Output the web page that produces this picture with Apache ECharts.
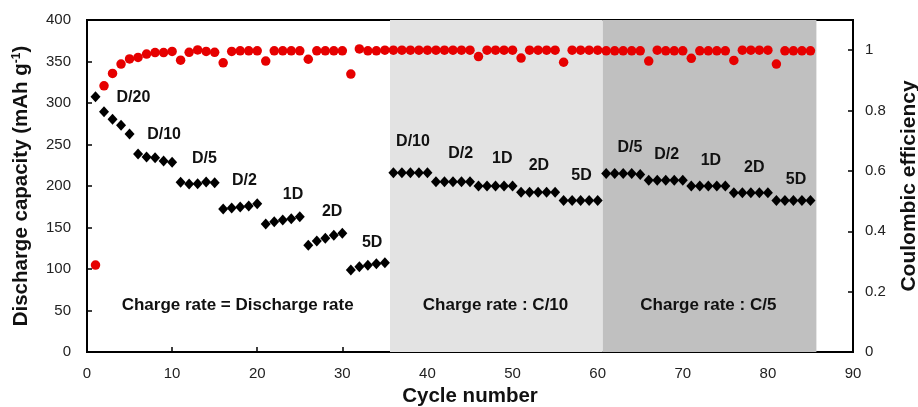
<!DOCTYPE html>
<html><head><meta charset="utf-8">
<script src="https://cdn.jsdelivr.net/npm/echarts@6/dist/echarts.min.js"></script>
<style>html,body{margin:0;padding:0;background:#fff}#c{width:918px;height:407px}</style>
</head><body><div id="c"></div>
<script>
const cycles = Array.from({length:85},(_,i)=>i+1);
const capacity = [307.6,289.5,280.3,273.1,262.7, 238.6,234.9,234.1,230.1,228.5,
  204.4,202.4,202.8,204.8,204.0, 172.3,173.5,174.7,175.9,178.7,
  154.2,157.0,159.0,160.6,163.0, 128.5,133.7,137.0,140.6,143.0,
  98.8,102.8,104.4,106.4,107.6, 216,216,216,216,216,
  205,205,205,205,205, 200,200,200,200,200,
  192.5,192.5,192.5,192.5,192.5, 182.5,182.5,182.5,182.5,182.5,
  215,215,215,215,214, 207,207,207,207,207,
  200,200,200,200,200, 192,192,192,192,192,
  182.5,182.5,182.5,182.5,182.5];
const efficiency = [0.288,0.882,0.923,0.954,0.971,0.976,0.987,0.992,0.992,0.996,
  0.967,0.993,1.001,0.996,0.993,0.958,0.996,0.998,0.998,0.998,
  0.964,0.998,0.998,0.998,0.998,0.970,0.998,0.998,0.998,0.998,
  0.921,1.004,0.998,0.998,1.0, 1.0,1.0,1.0,1.0,1.0,
  1.0,1.0,1.0,1.0,1.0, 0.979,1.0,1.0,1.0,1.0,
  0.974,1.0,1.0,1.0,1.0, 0.960,1.0,1.0,1.0,1.0,
  0.998,0.998,0.998,0.998,0.998, 0.964,1.0,0.998,0.998,0.998,
  0.973,0.998,0.998,0.998,0.998, 0.966,1.0,1.0,1.0,1.0,
  0.954,0.998,0.998,0.998,0.998];
const rateLabels = ['D/20','D/10','D/5','D/2','1D','2D','5D','D/10','D/2','1D','2D','5D','D/5','D/2','1D','2D','5D'];
const rateLabelX = [5.45,9.05,13.8,18.5,24.2,28.8,33.5,38.3,43.9,48.8,53.1,58.1,63.8,68.1,73.3,78.4,83.3];
const rateLabelY = [307,262,233,206,190,169,132,253,238.6,232.5,224,212,246.6,238,231,222,208];
const regionLabels = ['Charge rate = Discharge rate','Charge rate : C/10','Charge rate : C/5'];
const regionLabelX = [17.7,48.0,73.0];
const regionLabelY = [56.6,56.6,56.6];
const regions = [[35.6,60.6],[60.6,85.7]];
const regionColors = ['#e3e3e3','#c0c0c0'];
const xTicks = {min:0,max:90,interval:10};
const yLeftTicks = {min:0,max:400,interval:50};
const yRightTicks = {min:0,max:1.1,interval:0.2};

const FONT = 'Liberation Sans, Arial, sans-serif';
const chart = echarts.init(document.getElementById('c'), null, {renderer:'canvas'});
const annot = rateLabels.map((t,i)=>({value:[rateLabelX[i],rateLabelY[i]],name:t}));
const regAnnot = regionLabels.map((t,i)=>({value:[regionLabelX[i],regionLabelY[i]],name:t}));
const mkLabel = fs => ({show:true,position:'inside',formatter:p=>p.name,fontFamily:FONT,fontWeight:'bold',
  fontSize:fs,color:'#111',opacity:1,textBorderWidth:0});
chart.setOption({
  animation:false,
  grid:{left:87,right:65,top:20,bottom:55,outerBoundsMode:'none',containLabel:false,
    show:true,borderColor:'#000',borderWidth:2,backgroundColor:'transparent'},
  xAxis:{type:'value',min:xTicks.min,max:xTicks.max,interval:xTicks.interval,
    name:'Cycle number',nameLocation:'middle',nameGap:34,
    nameTextStyle:{fontFamily:FONT,fontWeight:'bold',fontSize:20.5,color:'#111'},
    axisLine:{lineStyle:{color:'#000',width:2}},
    axisTick:{inside:true,length:5,lineStyle:{color:'#000',width:1.5}},
    axisLabel:{fontFamily:FONT,fontSize:15,color:'#222',margin:14},
    splitLine:{show:false}},
  yAxis:[{type:'value',min:yLeftTicks.min,max:yLeftTicks.max,interval:yLeftTicks.interval,
    name:'Discharge capacity (mAh g{sup|-1})',nameLocation:'middle',nameRotate:90,nameGap:55,
    nameTextStyle:{fontFamily:FONT,fontWeight:'bold',fontSize:20.5,color:'#111',
      rich:{sup:{fontFamily:FONT,fontWeight:'bold',fontSize:12,color:'#111',verticalAlign:'top',padding:[0,0,8,0]}}},
    axisLine:{show:true,lineStyle:{color:'#000',width:2}},
    axisTick:{show:true,inside:true,length:5,lineStyle:{color:'#000',width:1.5}},
    axisLabel:{fontFamily:FONT,fontSize:15,color:'#222',margin:16},
    splitLine:{show:false}},
   {type:'value',position:'right',min:yRightTicks.min,max:yRightTicks.max,interval:yRightTicks.interval,
    name:'Coulombic efficiency',nameLocation:'middle',nameRotate:90,nameGap:46,
    nameTextStyle:{fontFamily:FONT,fontWeight:'bold',fontSize:21,color:'#111'},
    axisLine:{show:true,lineStyle:{color:'#000',width:2}},
    axisTick:{show:true,inside:true,length:5,lineStyle:{color:'#000',width:1.5}},
    axisLabel:{fontFamily:FONT,fontSize:15,color:'#222',margin:12,showMaxLabel:false,
      formatter:v=> v>1.05 ? '' : String(+v.toFixed(1))},
    splitLine:{show:false}}],
  series:[
    {type:'scatter',data:[],z:1,silent:true,
     markArea:{silent:true,itemStyle:{opacity:1},
       data:regions.map((r,i)=>[{xAxis:r[0],itemStyle:{color:regionColors[i]}},{xAxis:r[1]}])}},
    {type:'scatter',yAxisIndex:1,z:3,symbol:'circle',symbolSize:9.5,
     itemStyle:{color:'#e60000',opacity:1},
     data:cycles.map((c,i)=>[c,efficiency[i]])},
    {type:'scatter',yAxisIndex:0,z:4,symbol:'diamond',symbolSize:[10,11],
     itemStyle:{color:'#000',opacity:1},
     data:cycles.map((c,i)=>[c,capacity[i]])},
    {type:'scatter',yAxisIndex:0,z:5,symbolSize:0.1,itemStyle:{color:'#111',opacity:1},silent:true,
     label:mkLabel(16),emphasis:{disabled:true},data:annot},
    {type:'scatter',yAxisIndex:0,z:5,symbolSize:0.1,itemStyle:{color:'#111',opacity:1},silent:true,
     label:mkLabel(17),emphasis:{disabled:true},data:regAnnot}
  ]
});
</script></body></html>
